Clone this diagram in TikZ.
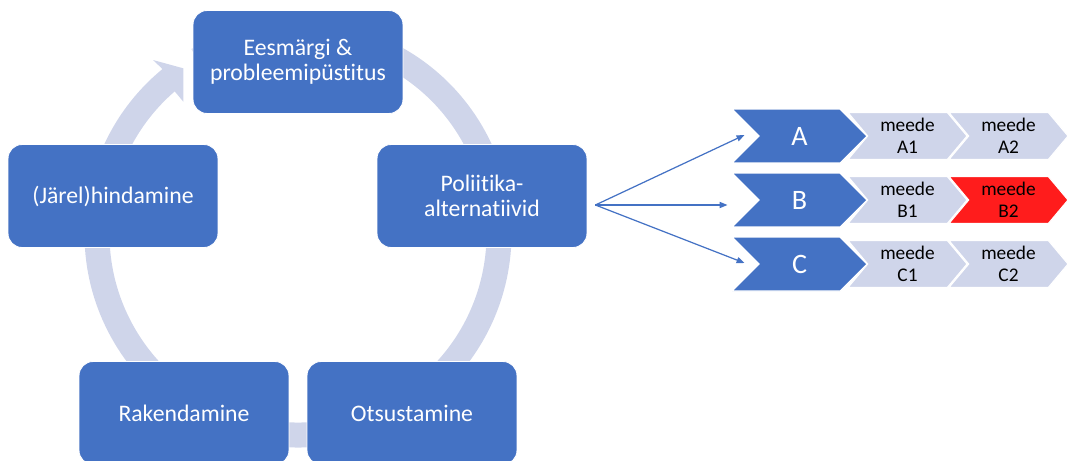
\documentclass[tikz,border=0pt]{standalone}
\usepackage{fontspec}
\setmainfont[Ligatures=NoCommon]{Carlito}
\usetikzlibrary{shapes.symbols,arrows.meta,calc}
\definecolor{boxblue}{HTML}{4472C4}
\definecolor{ringgray}{HTML}{CFD5EA}
\definecolor{pickred}{HTML}{FF1C1C}

\begin{document}
\begin{tikzpicture}[x=0.02cm,y=-0.02cm,
    stage/.style={rectangle, rounded corners=0.28cm, fill=boxblue, draw=white, line width=0.5pt,
        minimum width=4.2cm, minimum height=2.06cm, text=white, align=center,
        font=\fontsize{13.5}{14.5}\selectfont},
    alt/.style={signal, signal to=east, signal from=west, signal pointer angle=90,
        fill=boxblue, draw=white, line width=0.6pt, minimum width=2.7cm, minimum height=1.08cm,
        inner sep=0pt, text=white, font=\fontsize{16}{18}\selectfont},
    meede/.style={signal, signal to=east, signal from=west, signal pointer angle=100,
        draw=white, line width=0.6pt, minimum width=2.38cm, minimum height=0.94cm,
        inner sep=0pt, align=center, font=\fontsize{11}{12.3}\selectfont},
    fan/.style={boxblue, line width=0.7pt, -{Triangle[length=4.5pt,width=3.5pt]}}]
    \useasboundingbox (0,0) rectangle (1068,460);
    \clip (0,0) rectangle (1068,460);

    % ring behind the cycle
    \coordinate (mid) at (298,234);
    \draw[ringgray, line width=0.5cm] (mid) ++(-120:201) arc (-120:231:201);
    \fill[ringgray] (161.7,68.3) -- (153,60) -- (183.3,68.3) -- (183.3,101.7) -- (175,91.7) -- cycle;

    % cycle stages
    \node[stage] (goal) at (298,62) {Eesmärgi \&\\probleemipüstitus};
    \node[stage] (pol) at (482,196) {Poliitika-\\alternatiivid};
    \node[stage] (eval) at (113,196) {(Järel)hindamine};
    \node[stage] (impl) at (184,413) {Rakendamine};
    \node[stage] (dec) at (412,413) {Otsustamine};

    % alternatives and their measures
    \foreach \row/\y/\lastfill in {A/136/ringgray, B/200/pickred, C/264/ringgray} {
        \node[meede, fill=\lastfill] (\row2) at (1008.5,\y) {meede\\\row2};
        \node[meede, fill=ringgray] (\row1) at (907.5,\y) {meede\\\row1};
        \node[alt] (\row) at (799.5,\y) {\row};
    }

    \coordinate (fan) at ($(pol.east)+(8,9)$);
    \coordinate (tA) at ($(A.center)+(-55,-1)$);
    \coordinate (tB) at ($(B.center)+(-72,5)$);
    \coordinate (tC) at ($(C.center)+(-55,-1)$);
    \foreach \t in {tA,tB,tC}
    \draw[fan] (fan) -- (\t);
\end{tikzpicture}
\end{document}
